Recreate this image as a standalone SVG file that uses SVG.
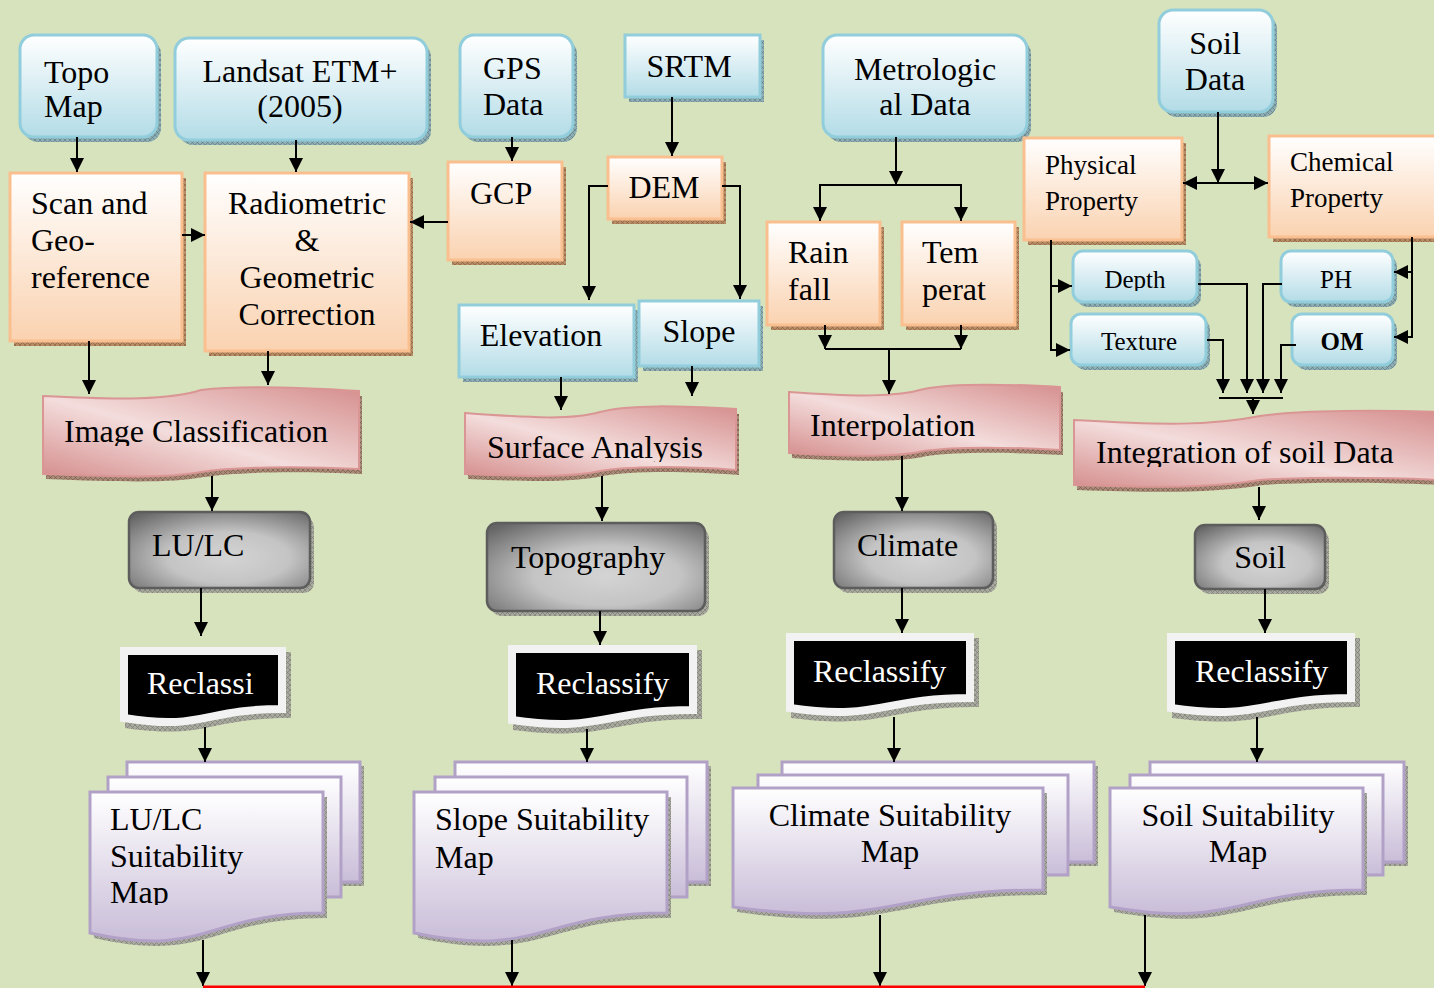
<svg xmlns="http://www.w3.org/2000/svg" width="1434" height="988" viewBox="0 0 1434 988">
<defs>
<linearGradient id="gBlue" x1="0" y1="0" x2="0" y2="1"><stop offset="0" stop-color="#ffffff"/><stop offset="1" stop-color="#b3dce7"/></linearGradient>
<linearGradient id="gOrange" x1="0" y1="0" x2="0" y2="1"><stop offset="0" stop-color="#ffffff"/><stop offset="1" stop-color="#fad2b0"/></linearGradient>
<linearGradient id="gPink" x1="0" y1="1" x2="1" y2="0"><stop offset="0" stop-color="#d58f8e"/><stop offset="0.45" stop-color="#f3dddc"/><stop offset="1" stop-color="#d58f8e"/></linearGradient>
<radialGradient id="gGray" cx="0.55" cy="0.6" r="0.75"><stop offset="0" stop-color="#d4d4d4"/><stop offset="0.45" stop-color="#c4c4c4"/><stop offset="1" stop-color="#666666"/></radialGradient>
<linearGradient id="gLav" x1="0" y1="0" x2="0" y2="1"><stop offset="0" stop-color="#ffffff"/><stop offset="1" stop-color="#c9bdd8"/></linearGradient>
<pattern id="hB" width="5" height="5" patternUnits="userSpaceOnUse"><rect width="5" height="5" fill="#8eaeb3"/><path d="M0,0 L5,5 M5,0 L0,5" stroke="#5e8086" stroke-width="0.7"/></pattern>
<pattern id="hO" width="5" height="5" patternUnits="userSpaceOnUse"><rect width="5" height="5" fill="#b88d66"/><path d="M0,0 L5,5 M5,0 L0,5" stroke="#8a6040" stroke-width="0.7"/></pattern>
<pattern id="hP" width="5" height="5" patternUnits="userSpaceOnUse"><rect width="5" height="5" fill="#a98a78"/><path d="M0,0 L5,5 M5,0 L0,5" stroke="#7a5a4a" stroke-width="0.7"/></pattern>
<pattern id="hG" width="5" height="5" patternUnits="userSpaceOnUse"><rect width="5" height="5" fill="#a9aa9f"/><path d="M0,0 L5,5 M5,0 L0,5" stroke="#7c7d74" stroke-width="0.7"/></pattern>
<marker id="ah" markerUnits="userSpaceOnUse" markerWidth="14" markerHeight="14" refX="14" refY="7" orient="auto-start-reverse"><path d="M0,0 L14,7 L0,14 Z" fill="#000"/></marker>
<clipPath id="clipIC"><rect x="40" y="380" width="330" height="66"/></clipPath>
<clipPath id="clipSA"><rect x="460" y="400" width="290" height="62"/></clipPath>
<clipPath id="clipIP"><rect x="780" y="380" width="290" height="60"/></clipPath>
<clipPath id="clipIS"><rect x="1070" y="405" width="364" height="62"/></clipPath>
<clipPath id="clipMap"><rect x="90" y="870" width="200" height="35"/></clipPath>
<clipPath id="clipDepth"><rect x="1080" y="255" width="110" height="36"/></clipPath>
</defs>
<style>
.bg{fill:#d7e3bd}
.blue{fill:url(#gBlue);stroke:#92cddc;stroke-width:3}
.orange{fill:url(#gOrange);stroke:#fabf8f;stroke-width:3}
.pink{fill:url(#gPink);stroke:#d99694;stroke-width:2}
.gray{fill:url(#gGray);stroke:#5d5d5d;stroke-width:2.5}
.lav{fill:url(#gLav);stroke:#b2a1c7;stroke-width:3}
.rec{fill:#000;stroke:#f2f2f2;stroke-width:8}
.shB{fill:url(#hB)}
.shO{fill:url(#hO)}
.shP{fill:url(#hP)}
.shG{fill:url(#hG)}
text{font-family:"Liberation Serif","Times New Roman",serif;font-size:32px;fill:#000}
.c{text-anchor:middle}
.s{font-size:27px}
.xs{font-size:25px}
.w{fill:#fff}
.b{font-weight:bold}
.ln{fill:none;stroke:#000;stroke-width:2}
.ar{fill:none;stroke:#000;stroke-width:2;marker-end:url(#ah)}
</style>
<rect class="bg" x="0" y="0" width="1434" height="988"/>

<!-- Top row inputs -->
<g id="topo-map"><rect class="shB" x="24" y="40" width="137" height="102" rx="14"/><rect class="blue" x="20" y="35" width="137" height="102" rx="14"/><text x="44" y="83">Topo</text><text x="44" y="117">Map</text></g>
<g id="landsat"><rect class="shB" x="179" y="43" width="252" height="102" rx="14"/><rect class="blue" x="175" y="38" width="252" height="102" rx="14"/><text class="c" x="300" y="82">Landsat ETM+</text><text class="c" x="300" y="117">(2005)</text></g>
<g id="gps-data"><rect class="shB" x="464" y="40" width="113" height="102" rx="14"/><rect class="blue" x="460" y="35" width="113" height="102" rx="14"/><text x="483" y="79">GPS</text><text x="483" y="115">Data</text></g>
<g id="srtm"><rect class="shB" x="629" y="40" width="135" height="62"/><rect class="blue" x="625" y="35" width="135" height="62"/><text class="c" x="689" y="77">SRTM</text></g>
<g id="metrological"><rect class="shB" x="827" y="40" width="204" height="102" rx="14"/><rect class="blue" x="823" y="35" width="204" height="102" rx="14"/><text class="c" x="925" y="80">Metrologic</text><text class="c" x="925" y="115">al Data</text></g>
<g id="soil-data"><rect class="shB" x="1163" y="15" width="114" height="102" rx="14"/><rect class="blue" x="1159" y="10" width="114" height="102" rx="14"/><text class="c" x="1215" y="54">Soil</text><text class="c" x="1215" y="90">Data</text></g>

<!-- Orange processing boxes -->
<g id="scan-georef"><rect class="shO" x="14" y="178" width="172" height="168"/><rect class="orange" x="10" y="173" width="172" height="168"/><text x="31" y="214">Scan and</text><text x="31" y="251">Geo-</text><text x="31" y="288">reference</text></g>
<g id="radiometric"><rect class="shO" x="209" y="178" width="204" height="178"/><rect class="orange" x="205" y="173" width="204" height="178"/><text class="c" x="307" y="214">Radiometric</text><text class="c" x="307" y="251">&amp;</text><text class="c" x="307" y="288">Geometric</text><text class="c" x="307" y="325">Correction</text></g>
<g id="gcp"><rect class="shO" x="452" y="167" width="114" height="98"/><rect class="orange" x="448" y="162" width="114" height="98"/><text x="470" y="204">GCP</text></g>
<g id="dem"><rect class="shO" x="612" y="162" width="114" height="62"/><rect class="orange" x="608" y="157" width="114" height="62"/><text class="c" x="664" y="198">DEM</text></g>
<g id="rainfall"><rect class="shO" x="771" y="227" width="113" height="103"/><rect class="orange" x="767" y="222" width="113" height="103"/><text x="788" y="263">Rain</text><text x="788" y="300">fall</text></g>
<g id="temperature"><rect class="shO" x="906" y="227" width="113" height="103"/><rect class="orange" x="902" y="222" width="113" height="103"/><text x="922" y="263">Tem</text><text x="922" y="300">perat</text></g>
<g id="physical"><rect class="shO" x="1028" y="143" width="158" height="102"/><rect class="orange" x="1024" y="138" width="158" height="102"/><text class="s" x="1045" y="174">Physical</text><text class="s" x="1045" y="210">Property</text></g>
<g id="chemical"><rect class="shO" x="1273" y="141" width="170" height="101"/><rect class="orange" x="1269" y="136" width="170" height="101"/><text class="s" x="1290" y="171">Chemical</text><text class="s" x="1290" y="207">Property</text></g>

<!-- Blue derived boxes -->
<g id="elevation"><rect class="shB" x="463" y="310" width="175" height="72"/><rect class="blue" x="459" y="305" width="175" height="72"/><text class="c" x="541" y="346">Elevation</text></g>
<g id="slope"><rect class="shB" x="643" y="306" width="120" height="65"/><rect class="blue" x="639" y="301" width="120" height="65"/><text class="c" x="699" y="342">Slope</text></g>
<g id="depth"><rect class="shB" x="1077" y="256" width="124" height="51" rx="10"/><rect class="blue" x="1073" y="251" width="124" height="51" rx="10"/><text class="c xs" x="1135" y="288" clip-path="url(#clipDepth)">Depth</text></g>
<g id="texture"><rect class="shB" x="1075" y="319" width="135" height="51" rx="10"/><rect class="blue" x="1071" y="314" width="135" height="51" rx="10"/><text class="c xs" x="1139" y="350">Texture</text></g>
<g id="ph"><rect class="shB" x="1285" y="256" width="112" height="51" rx="10"/><rect class="blue" x="1281" y="251" width="112" height="51" rx="10"/><text class="c xs" x="1336" y="288">PH</text></g>
<g id="om"><rect class="shB" x="1296" y="319" width="101" height="51" rx="10"/><rect class="blue" x="1292" y="314" width="101" height="51" rx="10"/><text class="c xs b" x="1342" y="350">OM</text></g>

<!-- Banners -->
<g id="image-classification">
<path class="shP" transform="translate(3,5)" d="M43,396 C122,400 169,400 201,390 C233,386 296,387 359,391 L359,469 C296,466 233,467 201,472 C169,478 122,477 43,474 Z"/>
<path class="pink" d="M43,396 C122,400 169,400 201,390 C233,386 296,387 359,391 L359,469 C296,466 233,467 201,472 C169,478 122,477 43,474 Z"/>
<text x="64" y="442" clip-path="url(#clipIC)">Image Classification</text></g>
<g id="surface-analysis">
<path class="shP" transform="translate(3,5)" d="M465,413 C533,418 573,420 600,412 C628,404 682,406 736,409 L736,470 C682,466 628,466 600,471 C573,477 533,477 465,474 Z"/>
<path class="pink" d="M465,413 C533,418 573,420 600,412 C628,404 682,406 736,409 L736,470 C682,466 628,466 600,471 C573,477 533,477 465,474 Z"/>
<text x="487" y="458" clip-path="url(#clipSA)">Surface Analysis</text></g>
<g id="interpolation">
<path class="shP" transform="translate(3,5)" d="M789,392 C857,397 897,397 924,389 C952,383 1006,384 1060,387 L1060,450 C1006,447 952,447 924,451 C897,457 857,457 789,453 Z"/>
<path class="pink" d="M789,392 C857,397 897,397 924,389 C952,383 1006,384 1060,387 L1060,450 C1006,447 952,447 924,451 C897,457 857,457 789,453 Z"/>
<text x="810" y="436" clip-path="url(#clipIP)">Interpolation</text></g>
<g id="integration-soil">
<path class="shP" transform="translate(3,5)" d="M1074,420 C1160,425 1210,426 1260,416 C1300,410 1380,410 1440,412 L1440,480 C1380,477 1300,477 1260,480 C1210,488 1160,488 1074,485 Z"/>
<path class="pink" d="M1074,420 C1160,425 1210,426 1260,416 C1300,410 1380,410 1440,412 L1440,480 C1380,477 1300,477 1260,480 C1210,488 1160,488 1074,485 Z"/>
<text x="1096" y="463" clip-path="url(#clipIS)">Integration of soil Data</text></g>

<!-- Gray theme boxes -->
<g id="lulc"><rect class="shG" x="133" y="517" width="181" height="76" rx="10"/><rect class="gray" x="129" y="512" width="181" height="76" rx="10"/><text x="152" y="556">LU/LC</text></g>
<g id="topography"><rect class="shG" x="491" y="528" width="218" height="88" rx="10"/><rect class="gray" x="487" y="523" width="218" height="88" rx="10"/><text x="511" y="568">Topography</text></g>
<g id="climate"><rect class="shG" x="838" y="517" width="159" height="76" rx="10"/><rect class="gray" x="834" y="512" width="159" height="76" rx="10"/><text x="857" y="556">Climate</text></g>
<g id="soil"><rect class="shG" x="1199" y="530" width="130" height="64" rx="10"/><rect class="gray" x="1195" y="525" width="130" height="64" rx="10"/><text class="c" x="1260" y="568">Soil</text></g>

<!-- Reclassify -->
<g id="reclassify-1">
<path class="shG" transform="translate(5,5)" d="M120,647 H286 V713 C203,713 203,735 120,723 Z"/>
<path class="rec" d="M124,651 H282 V709 C203,709 203,731 124,718 Z"/>
<text class="w" x="147" y="694">Reclassi</text></g>
<g id="reclassify-2">
<path class="shG" transform="translate(5,5)" d="M508,645 H697 V714 C602,714 602,737 508,725 Z"/>
<path class="rec" d="M512,649 H693 V710 C602,710 602,733 512,720 Z"/>
<text class="w" x="536" y="694">Reclassify</text></g>
<g id="reclassify-3">
<path class="shG" transform="translate(5,5)" d="M786,633 H974 V702 C880,702 880,725 786,713 Z"/>
<path class="rec" d="M790,637 H970 V698 C880,698 880,721 790,708 Z"/>
<text class="w" x="813" y="682">Reclassify</text></g>
<g id="reclassify-4">
<path class="shG" transform="translate(5,5)" d="M1167,633 H1355 V702 C1261,702 1261,725 1167,713 Z"/>
<path class="rec" d="M1171,637 H1351 V698 C1261,698 1261,721 1171,708 Z"/>
<text class="w" x="1195" y="682">Reclassify</text></g>

<!-- Suitability maps -->
<g id="lulc-suitability">
<rect class="shG" x="131" y="766" width="233" height="120"/>
<rect class="lav" x="127" y="762" width="233" height="120"/>
<rect class="lav" x="108" y="777" width="233" height="120"/>
<path class="shG" transform="translate(4,5)" d="M90,792 H323 V913 C206,913 206,959 90,933 Z"/>
<path class="lav" d="M90,792 H323 V913 C206,913 206,959 90,933 Z"/>
<text x="110" y="830">LU/LC</text><text x="110" y="867">Suitability</text><text x="110" y="903" clip-path="url(#clipMap)">Map</text></g>
<g id="slope-suitability">
<rect class="shG" x="459" y="766" width="252" height="120"/>
<rect class="lav" x="455" y="762" width="252" height="120"/>
<rect class="lav" x="435" y="777" width="252" height="120"/>
<path class="shG" transform="translate(4,5)" d="M414,792 H667 V913 C540,913 540,959 414,933 Z"/>
<path class="lav" d="M414,792 H667 V913 C540,913 540,959 414,933 Z"/>
<text x="435" y="830">Slope Suitability</text><text x="435" y="868">Map</text></g>
<g id="climate-suitability">
<rect class="shG" x="786" y="766" width="312" height="100"/>
<rect class="lav" x="782" y="762" width="312" height="100"/>
<rect class="lav" x="758" y="775" width="310" height="100"/>
<path class="shG" transform="translate(4,5)" d="M733,788 H1043 V890 C888,890 888,929 733,907 Z"/>
<path class="lav" d="M733,788 H1043 V890 C888,890 888,929 733,907 Z"/>
<text class="c" x="890" y="826">Climate Suitability</text><text class="c" x="890" y="862">Map</text></g>
<g id="soil-suitability">
<rect class="shG" x="1154" y="766" width="254" height="100"/>
<rect class="lav" x="1150" y="762" width="254" height="100"/>
<rect class="lav" x="1130" y="775" width="253" height="100"/>
<path class="shG" transform="translate(4,5)" d="M1110,788 H1363 V890 C1236,890 1236,929 1110,907 Z"/>
<path class="lav" d="M1110,788 H1363 V890 C1236,890 1236,929 1110,907 Z"/>
<text class="c" x="1238" y="826">Soil Suitability</text><text class="c" x="1238" y="862">Map</text></g>

<!-- Connectors -->
<g id="connectors">
<path class="ar" d="M77,137 V172"/>
<path class="ar" d="M296,140 V172"/>
<path class="ar" d="M512,137 V161"/>
<path class="ar" d="M672,97 V156"/>
<path class="ar" d="M182,235 H205"/>
<path class="ar" d="M448,222 H410"/>
<path class="ar" d="M608,186 H589 V300"/>
<path class="ar" d="M722,186 H740 V299"/>
<path class="ar" d="M896,137 V185"/>
<path class="ar" d="M896,185 H820 V221"/>
<path class="ar" d="M896,185 H961 V221"/>
<path class="ar" d="M825,325 V349"/>
<path class="ar" d="M961,325 V349"/>
<path class="ln" d="M825,349 H961"/>
<path class="ar" d="M889,349 V394"/>
<path class="ar" d="M1218,112 V183"/>
<path class="ar" d="M1183,183 H1268" marker-start="url(#ah)"/>
<path class="ln" d="M1051,240 V351"/>
<path class="ar" d="M1051,286 H1072"/>
<path class="ar" d="M1051,350 H1070"/>
<path class="ln" d="M1412,237 V338"/>
<path class="ar" d="M1412,272 H1394"/>
<path class="ar" d="M1412,337 H1394"/>
<path class="ar" d="M1198,284 H1247 V393"/>
<path class="ar" d="M1207,340 H1223 V393"/>
<path class="ar" d="M1282,284 H1263 V393"/>
<path class="ar" d="M1296,345 H1281 V393"/>
<path class="ln" d="M1219,398 H1283"/>
<path class="ar" d="M1253,398 V414"/>
<path class="ar" d="M561,377 V410"/>
<path class="ar" d="M692,366 V396"/>
<path class="ar" d="M89,341 V394"/>
<path class="ar" d="M268,351 V385"/>
<path class="ar" d="M212,476 V511"/>
<path class="ar" d="M602,476 V521"/>
<path class="ar" d="M902,456 V511"/>
<path class="ar" d="M1259,487 V520"/>
<path class="ar" d="M201,588 V636"/>
<path class="ar" d="M600,611 V645"/>
<path class="ar" d="M902,588 V633"/>
<path class="ar" d="M1265,589 V633"/>
<path class="ar" d="M205,727 V762"/>
<path class="ar" d="M587,729 V762"/>
<path class="ar" d="M894,717 V762"/>
<path class="ar" d="M1257,717 V762"/>
<path class="ar" d="M203,940 V986"/>
<path class="ar" d="M512,940 V986"/>
<path class="ar" d="M880,915 V986"/>
<path class="ar" d="M1145,915 V986"/>
<path d="M203,987 H1145" stroke="#ff0000" stroke-width="3" fill="none"/>
</g>
</svg>
